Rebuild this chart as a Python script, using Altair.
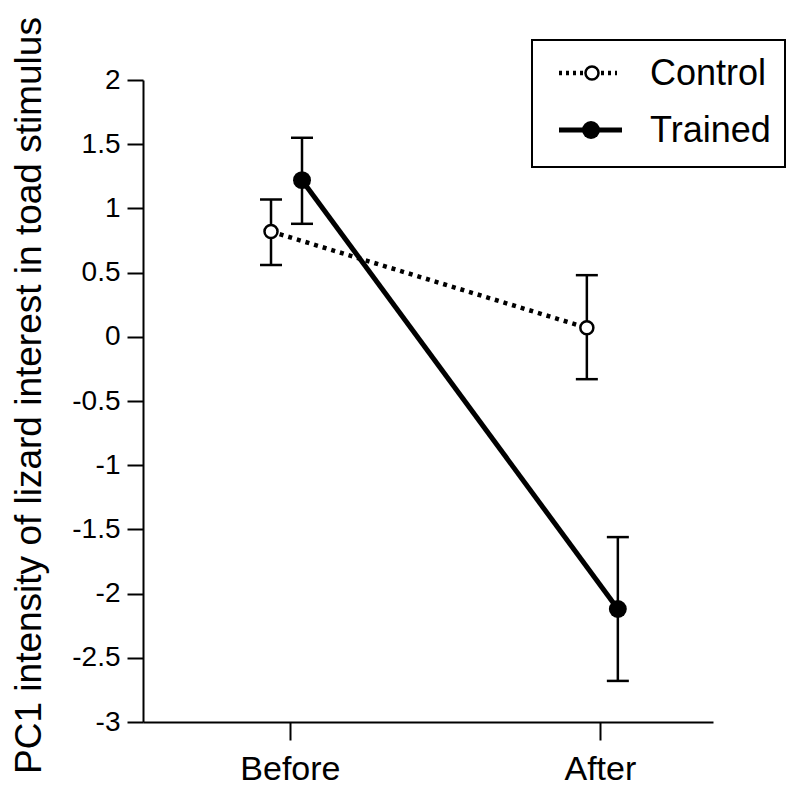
import altair as alt
import pandas as pd

# ---- data ----
conditions = ["Before", "After"]
cond_pos = [1, 2]
groups = ["Control", "Trained"]

control_mean = [0.82, 0.07]
control_upper = [1.07, 0.48]
control_lower = [0.56, -0.33]
control_dodge = [-0.061, -0.042]

trained_mean = [1.22, -2.12]
trained_upper = [1.55, -1.56]
trained_lower = [0.88, -2.68]
trained_dodge = [0.039, 0.058]

y_ticks = [-3, -2.5, -2, -1.5, -1, -0.5, 0, 0.5, 1, 1.5, 2]
y_title = "PC1 intensity of lizard interest in toad stimulus"

rows = []
for g, means, ups, los, dod in [
    ("Control", control_mean, control_upper, control_lower, control_dodge),
    ("Trained", trained_mean, trained_upper, trained_lower, trained_dodge),
]:
    for i, c in enumerate(conditions):
        rows.append({"group": g, "cond": c, "x": cond_pos[i] + dod[i],
                     "mean": means[i], "hi": ups[i], "lo": los[i]})
df = pd.DataFrame(rows)

FONT = "Liberation Sans"
YLAB = 28

xscale = alt.Scale(domain=[0.526, 2.365], nice=False, zero=False)
yscale = alt.Scale(domain=[-3, 2], nice=False, zero=False)

xaxis = alt.Axis(values=cond_pos, labelExpr="datum.value == 1 ? 'Before' : 'After'",
                 title=None, labelFontSize=34)
yaxis = alt.Axis(values=y_ticks, labelExpr="toString(datum.value)", title=y_title,
                 labelFontSize=YLAB)

base = alt.Chart(df)
X = alt.X("x:Q", scale=xscale, axis=xaxis)
Y = alt.Y("mean:Q", scale=yscale, axis=yaxis)

ctrl = base.transform_filter(alt.datum.group == "Control")
trn = base.transform_filter(alt.datum.group == "Trained")

ctrl_line = ctrl.mark_line(color="black", strokeWidth=4.5, strokeDash=[4, 5]).encode(x=X, y=Y)
trn_line = trn.mark_line(color="black", strokeWidth=5).encode(x=X, y=Y)

err = base.mark_rule(color="black", strokeWidth=2.5).encode(
    x=alt.X("x:Q", scale=xscale, axis=xaxis), y=alt.Y("lo:Q", scale=yscale, axis=yaxis), y2="hi:Q")
cap_hi = base.mark_tick(color="black", orient="horizontal", size=22, thickness=2.5, opacity=1).encode(
    x=alt.X("x:Q", scale=xscale, axis=xaxis), y=alt.Y("hi:Q", scale=yscale, axis=yaxis))
cap_lo = base.mark_tick(color="black", orient="horizontal", size=22, thickness=2.5, opacity=1).encode(
    x=alt.X("x:Q", scale=xscale, axis=xaxis), y=alt.Y("lo:Q", scale=yscale, axis=yaxis))

ctrl_pts = ctrl.mark_point(shape="circle", filled=True, fill="white", stroke="black",
                           strokeWidth=2.5, size=170, opacity=1).encode(x=X, y=Y)
trn_pts = trn.mark_circle(color="black", size=320, opacity=1).encode(x=X, y=Y)

# ---- hand-drawn legend ----
one = pd.DataFrame({"k": [0]})
leg = alt.Chart(one)
leg_box = leg.mark_rect(fill="white", stroke="black", strokeWidth=2).encode(
    x=alt.value(389), x2=alt.value(642), y=alt.value(-40), y2=alt.value(87))
leg_c_line = leg.mark_rule(color="black", strokeWidth=4.5, strokeDash=[3, 4]).encode(
    x=alt.value(416), x2=alt.value(474), y=alt.value(-7))
leg_c_pt = leg.mark_point(shape="circle", filled=True, fill="white", stroke="black",
                          strokeWidth=2.5, size=170, opacity=1).encode(
    x=alt.value(449), y=alt.value(-7))
leg_t_line = leg.mark_rule(color="black", strokeWidth=5).encode(
    x=alt.value(416), x2=alt.value(479), y=alt.value(50))
leg_t_pt = leg.mark_circle(color="black", size=320, opacity=1).encode(
    x=alt.value(448), y=alt.value(50))
leg_c_txt = leg.mark_text(align="left", baseline="middle", fontSize=36, font=FONT,
                          color="black").encode(
    x=alt.value(507), y=alt.value(-6), text=alt.value(groups[0]))
leg_t_txt = leg.mark_text(align="left", baseline="middle", fontSize=36, font=FONT,
                          color="black").encode(
    x=alt.value(507), y=alt.value(51), text=alt.value(groups[1]))

chart = alt.layer(
    ctrl_line, trn_line, err, cap_hi, cap_lo, ctrl_pts, trn_pts,
    leg_box, leg_c_line, leg_c_pt, leg_t_line, leg_t_pt, leg_c_txt, leg_t_txt,
).properties(
    width=570, height=642,
    autosize=alt.AutoSizeParams(type="none"),
    padding={"left": 135, "top": 72, "right": 74, "bottom": 64},
).configure(
    background="white"
).configure_view(
    stroke=None
).configure_axis(
    grid=False, domainColor="black", domainWidth=2, tickColor="black", tickWidth=2,
    labelFont=FONT, labelColor="black", labelFlush=False,
    titleFont=FONT, titleColor="black", titleFontWeight="normal",
).configure_axisX(
    tickSize=18, labelFontSize=34, labelPadding=46, labelBaseline="bottom",
).configure_axisY(
    tickSize=16, labelFontSize=YLAB, labelPadding=7,
    titleFontSize=37, titleAngle=270, titleBaseline="top", titleAlign="center",
    titleX=-132, titleY=315,
)

chart.save("out.html", embed_options={"renderer": "svg", "actions": False})
